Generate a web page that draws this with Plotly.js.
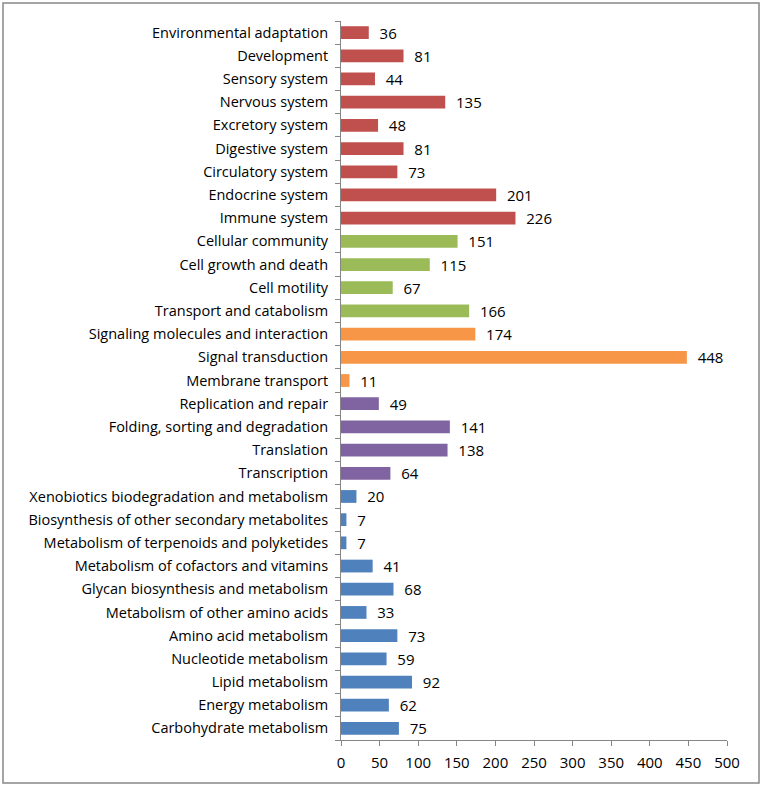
<!DOCTYPE html>
<html><head><meta charset="utf-8">
<script src="https://cdn.plot.ly/plotly-3.0.1.min.js"></script>
<style>html,body{margin:0;padding:0;background:#fff}#chart{width:762px;height:786px}</style>
</head><body><div id="chart"></div>
<script>
// bottom to top
const categories = [
  "Carbohydrate metabolism","Energy metabolism","Lipid metabolism","Nucleotide metabolism",
  "Amino acid metabolism","Metabolism of other amino acids","Glycan biosynthesis and metabolism",
  "Metabolism of cofactors and vitamins","Metabolism of terpenoids and polyketides",
  "Biosynthesis of other secondary metabolites","Xenobiotics biodegradation and metabolism",
  "Transcription","Translation","Folding, sorting and degradation","Replication and repair",
  "Membrane transport","Signal transduction","Signaling molecules and interaction",
  "Transport and catabolism","Cell motility","Cell growth and death","Cellular community",
  "Immune system","Endocrine system","Circulatory system","Digestive system","Excretory system",
  "Nervous system","Sensory system","Development","Environmental adaptation"
];
const values = [75,62,92,59,73,33,68,41,7,7,20, 64,138,141,49, 11,448,174, 166,67,115,151, 226,201,73,81,48,135,44,81,36];
const groups = ["b","b","b","b","b","b","b","b","b","b","b","p","p","p","p","o","o","o","g","g","g","g","r","r","r","r","r","r","r","r","r"];
const groupColors = {b:"#4F81BD", p:"#8064A2", o:"#F79646", g:"#9BBB59", r:"#C0504D"};
const xTicks = [0,50,100,150,200,250,300,350,400,450,500];

const yIdx = categories.map((_, i) => i);
const trace = {
  type: "bar", orientation: "h",
  x: values, y: yIdx,
  marker: {color: groups.map(g => groupColors[g])},
  text: values.map(v => "  " + v), textposition: "outside", constraintext: "none",
  textfont: {family: "Open Sans, Liberation Sans, sans-serif", size: 15, color: "#000"},
  cliponaxis: false, width: 0.55, hoverinfo: "none"
};
const dummy = {type:"scatter", x:[0], y:[0], yaxis:"y2", mode:"markers", marker:{opacity:0}, hoverinfo:"none", showlegend:false};
const boundaries = [];
for (let i = 0; i <= categories.length; i++) boundaries.push(i - 0.5);
const layout = {
  width: 762, height: 786,
  margin: {l: 341, r: 35, t: 21, b: 46},
  showlegend: false,
  paper_bgcolor: "#fff", plot_bgcolor: "#fff",
  font: {family: "Open Sans, Liberation Sans, sans-serif", size: 14, color: "#000"},
  xaxis: {range: [0, 500], tickvals: xTicks, ticktext: xTicks.map(String), showgrid: false, zeroline: false,
    showline: true, linecolor: "#868686", linewidth: 1, ticks: "outside", ticklen: 5, tickcolor: "#868686",
    tickfont: {size: 15}, ticklabelstandoff: 4, fixedrange: true},
  yaxis: {range: [-0.5, categories.length - 0.5], tickvals: yIdx, ticktext: categories, ticks: "",
    showgrid: false, zeroline: false, showline: true, linecolor: "#868686", linewidth: 1,
    tickfont: {size: 14.5}, ticklabelstandoff: 9},
  yaxis2: {overlaying: "y", side: "left", range: [-0.5, categories.length - 0.5], tickvals: boundaries,
    showticklabels: false, ticks: "outside", ticklen: 5, tickcolor: "#868686", showgrid: false, zeroline: false, showline: false},
  shapes: [{type: "rect", xref: "paper", yref: "paper", x0: -338/386, x1: 1 + 32/386, y0: -43/717, y1: 1 + 18/717,
    line: {color: "#888", width: 1.5}}]
};
Plotly.newPlot("chart", [trace, dummy], layout, {displayModeBar: false, staticPlot: true});
</script></body></html>
